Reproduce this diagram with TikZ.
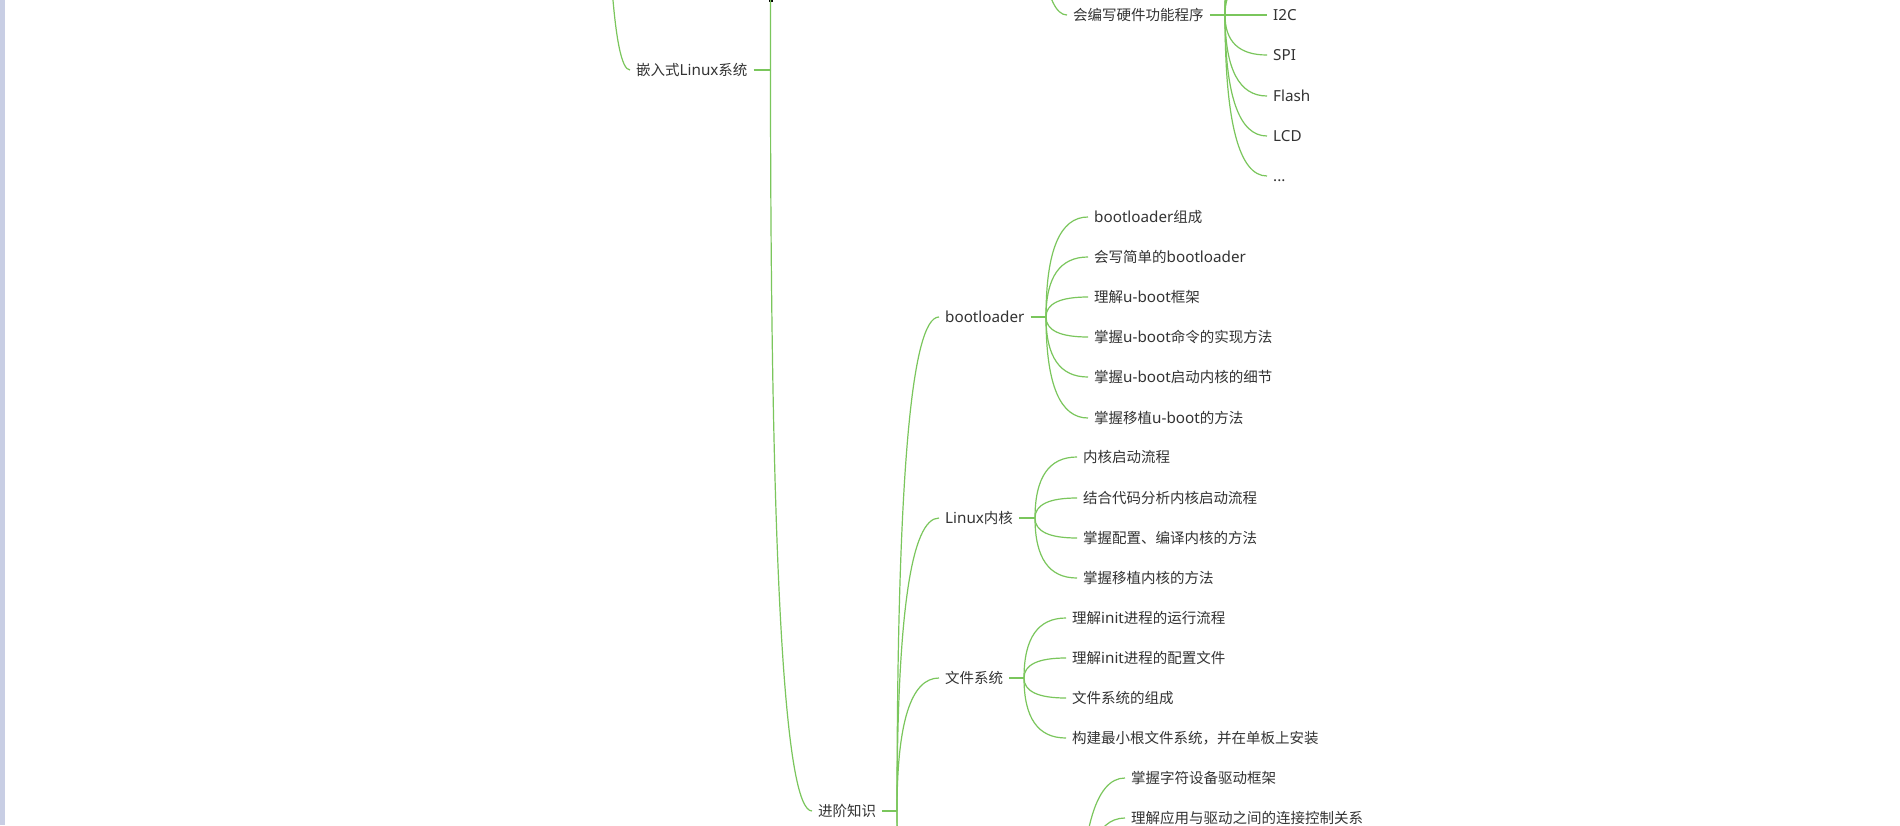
\documentclass[tikz,border=0pt]{standalone}
\usepackage{fontspec}
\setmainfont{Noto Sans CJK SC}
\newfontfamily\lat[Scale=1.05]{Noto Sans}
\usetikzlibrary{calc}
\definecolor{lg}{RGB}{122,198,92}
\definecolor{tx}{RGB}{51,51,51}
\definecolor{stripc}{RGB}{200,206,228}
\tikzset{
  lbl/.style={anchor=west, inner xsep=6pt, inner ysep=0pt, text height=12.5pt, text depth=1.5pt,
    font=\fontsize{14.5}{16}\selectfont, text=tx},
  link/.style={draw=lg, line width=1.2pt,
    to path={.. controls ($(\tikztostart)!0.667!(\tikztostart |- \tikztotarget)$) and ($(\tikztotarget)!0.667!(\tikztostart |- \tikztotarget)$) .. (\tikztotarget)}},
  stub/.style={draw=lg, line width=2pt},
}
\begin{document}
\begin{tikzpicture}[x=1pt,y=-1pt]
\useasboundingbox (0,0) rectangle (1900,825);
\clip (0,0) rectangle (1900,825);
\fill[white] (0,0) rectangle (1900,825);
\fill[stripc] (0,0) rectangle (5,825);
\fill[black] (768.5,0) rectangle (772.5,1.5);

% level: embedded linux
\node[lbl] (emb) at (630,70) {嵌入式{\lat Linux}系统};
\coordinate (pemb) at (605,-300);
\coordinate (jemb) at (770.5,70);
\draw[link] (pemb) to (emb.west);
\draw[stub, line width=1.3pt] (emb.east) -- (jemb);
\coordinate (up1) at (813,-700);
\draw[link] (jemb) to (up1);

% advanced
\node[lbl] (adv) at (812,811) {进阶知识};
\coordinate (jadv) at (897,811);
\draw[link] (jemb) to (adv.west);
\draw[stub] (adv.east) -- (jadv);

% hardware programs (top)
\node[lbl] (hw) at (1067,15) {会编写硬件功能程序};
\coordinate (phw) at (1035,-185);
\coordinate (jhw) at (1225,15);
\draw[link] (phw) to (hw.west);
\draw[stub] (hw.east) -- (jhw);
\node[lbl] (hw1) at (1267,15) {\lat I2C};
\node[lbl] (hw2) at (1267,55) {\lat SPI};
\node[lbl] (hw3) at (1267,96) {\lat Flash};
\node[lbl] (hw4) at (1267,136) {\lat LCD};
\node[lbl] (hw5) at (1267,176) {\lat ...};
\coordinate (hwa) at (1267,-25);
\coordinate (hwb) at (1267,-65);
\coordinate (hwc) at (1267,-105);
\coordinate (hwd) at (1267,-145);
\foreach \c in {hw1,hw2,hw3,hw4,hw5} \draw[link] (jhw) to (\c.west);
\foreach \c in {hwa,hwb,hwc,hwd} \draw[link] (jhw) to (\c);

% bootloader
\node[lbl] (bl) at (939,317) {\lat bootloader};
\coordinate (jbl) at (1046,317);
\draw[link] (jadv) to (bl.west);
\draw[stub] (bl.east) -- (jbl);
\node[lbl] (bl1) at (1088,217) {{\lat bootloader}组成};
\node[lbl] (bl2) at (1088,257) {会写简单的{\lat bootloader}};
\node[lbl] (bl3) at (1088,297) {理解{\lat u-boot}框架};
\node[lbl] (bl4) at (1088,337) {掌握{\lat u-boot}命令的实现方法};
\node[lbl] (bl5) at (1088,377) {掌握{\lat u-boot}启动内核的细节};
\node[lbl] (bl6) at (1088,418) {掌握移植{\lat u-boot}的方法};
\foreach \c in {bl1,bl2,bl3,bl4,bl5,bl6} \draw[link] (jbl) to (\c.west);

% linux kernel
\node[lbl] (lk) at (939,518) {{\lat Linux}内核};
\coordinate (jlk) at (1035,518);
\draw[link] (jadv) to (lk.west);
\draw[stub] (lk.east) -- (jlk);
\node[lbl] (lk1) at (1077,457) {内核启动流程};
\node[lbl] (lk2) at (1077,498) {结合代码分析内核启动流程};
\node[lbl] (lk3) at (1077,538) {掌握配置、编译内核的方法};
\node[lbl] (lk4) at (1077,578) {掌握移植内核的方法};
\foreach \c in {lk1,lk2,lk3,lk4} \draw[link] (jlk) to (\c.west);

% file system
\node[lbl] (fs) at (939,678) {文件系统};
\coordinate (jfs) at (1024,678);
\draw[link] (jadv) to (fs.west);
\draw[stub] (fs.east) -- (jfs);
\node[lbl] (fs1) at (1066,618) {理解{\lat init}进程的运行流程};
\node[lbl] (fs2) at (1066,658) {理解{\lat init}进程的配置文件};
\node[lbl] (fs3) at (1066,698) {文件系统的组成};
\node[lbl] (fs4) at (1066,738) {构建最小根文件系统，并在单板上安装};
\foreach \c in {fs1,fs2,fs3,fs4} \draw[link] (jfs) to (\c.west);

% drivers (parent below the picture)
\coordinate (dr) at (938,940);
\coordinate (dr2) at (938,1150);
\coordinate (jdr) at (1080,940);
\draw[link] (jadv) to (dr);
\draw[link] (jadv) to (dr2);
\node[lbl] (dr1) at (1125,778) {掌握字符设备驱动框架};
\node[lbl] (drb) at (1125,818) {理解应用与驱动之间的连接控制关系};
\foreach \c in {dr1,drb} \draw[link] (jdr) to (\c.west);
\end{tikzpicture}
\end{document}
